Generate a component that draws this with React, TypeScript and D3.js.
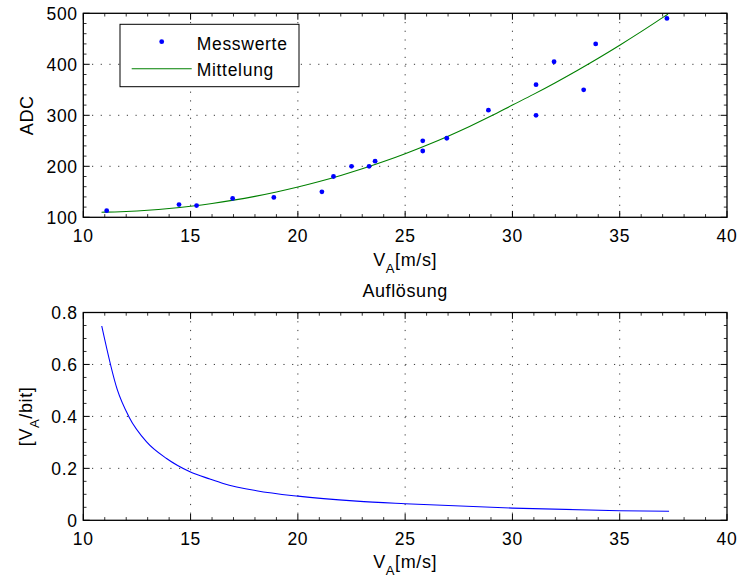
import React from 'react';
import * as d3 from 'd3';

// Axis tick values
const xTicks = [10, 15, 20, 25, 30, 35, 40];
const adcTicks = [100, 200, 300, 400, 500];
const resTicks = [0, 0.2, 0.4, 0.6, 0.8];

// Measured samples: airspeed [m/s] vs ADC reading
const speed = [11.09, 14.46, 15.28, 16.96, 18.88, 21.12, 21.66, 22.5, 23.32, 23.6, 25.82, 25.82, 26.94, 28.88, 31.1, 31.1, 31.94, 33.32, 33.88, 37.2];
const adc = [113, 125, 123, 137, 139, 150, 180, 200, 200, 210, 250, 230, 255, 310, 360, 300, 405, 350, 440, 490];

// Averaged characteristic curve
const fitSpeed = [10.85, 11, 12, 13, 14, 15, 16, 17, 18, 19, 20, 21, 22, 23, 24, 25, 26, 27, 28, 29, 30, 31, 32, 33, 34, 35, 36, 37, 37.25];
const fitAdc = [110, 110.1, 111.5, 113.9, 117.3, 121.7, 127.1, 133.6, 141.1, 149.7, 159.4, 170.2, 182.1, 195.1, 209.3, 224.7, 241.3, 259.1, 278.1, 298.4, 320, 341.5, 364, 387.5, 412, 437.5, 464, 491.5, 498.4];

// Resolution [V_A per bit]
const resSpeed = [10.86, 11.58, 12.13, 12.95, 13.88, 14.97, 15.9, 16.52, 18.07, 20, 22.74, 25, 30, 35, 37.3];
const resValue = [0.748, 0.504, 0.398, 0.302, 0.238, 0.187, 0.159, 0.142, 0.114, 0.093, 0.074, 0.064, 0.047, 0.037, 0.035];

const W = 739;
const H = 579;
const FONT = '"Liberation Sans", Arial, Helvetica, sans-serif';
const left = 83.3;
const right = 727;
const topBox = { y0: 13.3, y1: 217.3 };
const botBox = { y0: 312.5, y1: 520.3 };
const MAJOR = 6.4;
const MINOR = 3.2;

const x = d3.scaleLinear().domain([10, 40]).range([left, right]);
const yTop = d3.scaleLinear().domain([100, 500]).range([topBox.y1, topBox.y0]);
const yBot = d3.scaleLinear().domain([0, 0.8]).range([botBox.y1, botBox.y0]);

const xMinor = d3.range(10, 40.001, 1).filter((v) => !xTicks.includes(v));
const adcMinor = d3.range(100, 500.001, 20).filter((v) => !adcTicks.includes(v));
const resMinor = d3.range(0, 0.8001, 0.05).map((v) => +v.toFixed(2)).filter((v) => !resTicks.includes(v));

function Axes({ y, yTicks, yMinor, y0, y1, fmt }) {
  const grid = '#3a3a3a';
  return (
    <g>
      {/* dotted grid */}
      {xTicks.slice(1, -1).map((t) => (
        <line key={'gx' + t} x1={x(t)} x2={x(t)} y1={y0} y2={y1} stroke={grid} strokeWidth={1} strokeDasharray="1.2,7.5" />
      ))}
      {yTicks.slice(1, -1).map((t) => (
        <line key={'gy' + t} x1={left} x2={right} y1={y(t)} y2={y(t)} stroke={grid} strokeWidth={1} strokeDasharray="1.2,7.5" />
      ))}
      {/* major ticks on all four sides */}
      {xTicks.map((t) => (
        <g key={'tx' + t}>
          <line x1={x(t)} x2={x(t)} y1={y1} y2={y1 - MAJOR} stroke="#000" />
          <line x1={x(t)} x2={x(t)} y1={y0} y2={y0 + MAJOR} stroke="#000" />
        </g>
      ))}
      {xMinor.map((t) => (
        <g key={'mx' + t}>
          <line x1={x(t)} x2={x(t)} y1={y1} y2={y1 - MINOR} stroke="#000" strokeWidth={0.8} />
          <line x1={x(t)} x2={x(t)} y1={y0} y2={y0 + MINOR} stroke="#000" strokeWidth={0.8} />
        </g>
      ))}
      {yTicks.map((t) => (
        <g key={'ty' + t}>
          <line x1={left} x2={left + MAJOR} y1={y(t)} y2={y(t)} stroke="#000" />
          <line x1={right} x2={right - MAJOR} y1={y(t)} y2={y(t)} stroke="#000" />
        </g>
      ))}
      {yMinor.map((t) => (
        <g key={'my' + t}>
          <line x1={left} x2={left + MINOR} y1={y(t)} y2={y(t)} stroke="#000" strokeWidth={0.8} />
          <line x1={right} x2={right - MINOR} y1={y(t)} y2={y(t)} stroke="#000" strokeWidth={0.8} />
        </g>
      ))}
      {/* tick labels */}
      {xTicks.map((t) => (
        <text key={'lx' + t} x={x(t)} y={y1 + 24.5} textAnchor="middle" fontSize={17.5} letterSpacing={0.7}>
          {t}
        </text>
      ))}
      {yTicks.map((t) => (
        <text key={'ly' + t} x={left - 5.5} y={y(t) + 6.3} textAnchor="end" fontSize={17.5} letterSpacing={0.7}>
          {fmt(t)}
        </text>
      ))}
    </g>
  );
}

export default function App() {
  const fitLine = d3
    .line<number>()
    .x((d, i) => x(fitSpeed[i]))
    .y((d) => yTop(d))
    .curve(d3.curveMonotoneX);
  const resLine = d3
    .line<number>()
    .x((d, i) => x(resSpeed[i]))
    .y((d) => yBot(d))
    .curve(d3.curveMonotoneX);

  const border = (y0, y1) => (
    <rect x={left} y={y0} width={right - left} height={y1 - y0} fill="none" stroke="#000" strokeWidth={1.3} />
  );

  return (
    <svg width={W} height={H} style={{ position: 'absolute', left: 0, top: 0, background: '#fff' }} fontFamily={FONT} fill="#000">
      <rect width={W} height={H} fill="#fff" />

      {/* upper panel: ADC vs airspeed */}
      <Axes y={yTop} yTicks={adcTicks} yMinor={adcMinor} y0={topBox.y0} y1={topBox.y1} fmt={(v) => String(v)} />
      <path d={fitLine(fitAdc) || ''} fill="none" stroke="#008000" strokeWidth={1.1} />
      {adc.map((v, i) => (
        <circle key={'p' + i} cx={x(speed[i])} cy={yTop(v)} r={2.4} fill="#0000ff" />
      ))}
      {border(topBox.y0, topBox.y1)}

      {/* legend */}
      <rect x={120} y={24.3} width={179} height={62.4} fill="#fff" stroke="#000" strokeWidth={1} />
      <circle cx={161.7} cy={41.7} r={2.4} fill="#0000ff" />
      <line x1={131.7} x2={191.7} y1={68.7} y2={68.7} stroke="#008000" strokeWidth={1.1} />
      <text x={196.7} y={49.5} fontSize={17.5} letterSpacing={0.7}>Messwerte</text>
      <text x={196.7} y={75.5} fontSize={17.5} letterSpacing={0.7}>Mittelung</text>

      {/* axis labels, upper panel */}
      <text transform={`translate(33,${(topBox.y0 + topBox.y1) / 2}) rotate(-90)`} textAnchor="middle" fontSize={18} letterSpacing={0.6}>
        ADC
      </text>
      <text x={(left + right) / 2} y={266} textAnchor="middle" fontSize={18} letterSpacing={0.6}>
        V<tspan fontSize={13} dy={7}>A</tspan>
        <tspan dy={-7}>[m/s]</tspan>
      </text>

      {/* lower panel: resolution */}
      <text x={(left + right) / 2} y={296.5} textAnchor="middle" fontSize={18} letterSpacing={0.6}>
        Auflösung
      </text>
      <Axes y={yBot} yTicks={resTicks} yMinor={resMinor} y0={botBox.y0} y1={botBox.y1} fmt={(v) => (v === 0 ? '0' : v.toFixed(1))} />
      <path d={resLine(resValue) || ''} fill="none" stroke="#0000ff" strokeWidth={1.1} />
      {border(botBox.y0, botBox.y1)}

      <text transform={`translate(32,${(botBox.y0 + botBox.y1) / 2}) rotate(-90)`} textAnchor="middle" fontSize={18} letterSpacing={0.6}>
        [V<tspan fontSize={13} dy={7}>A</tspan>
        <tspan dy={-7}>/bit]</tspan>
      </text>
      <text x={(left + right) / 2} y={568} textAnchor="middle" fontSize={18} letterSpacing={0.6}>
        V<tspan fontSize={13} dy={7}>A</tspan>
        <tspan dy={-7}>[m/s]</tspan>
      </text>
    </svg>
  );
}
